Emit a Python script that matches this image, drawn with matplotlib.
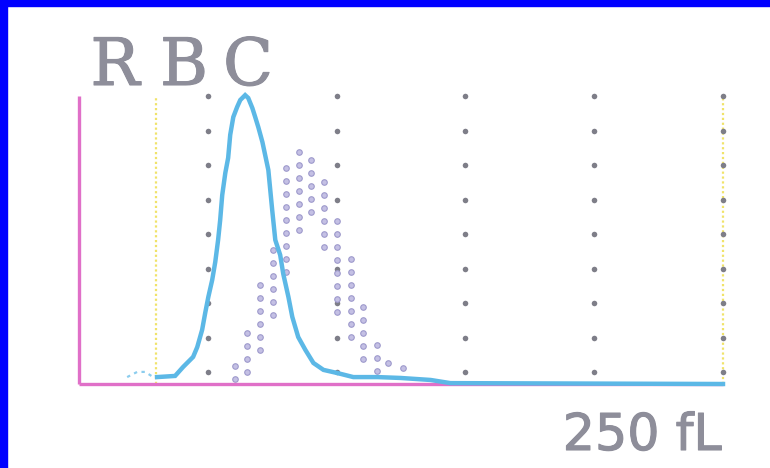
import numpy as np
import matplotlib
matplotlib.use("Agg")
import matplotlib.pyplot as plt
import matplotlib.patheffects as pe
from matplotlib.patches import Rectangle

# RBC volume histogram (x in fL, y in relative counts 0..100)
rbc_x = [30.3, 37.3, 40.4, 44.3, 45.9, 47.8, 49.0, 50.2, 51.7, 52.9, 54.0, 54.8,
         55.6, 56.8, 57.9, 58.7, 59.9, 61.4, 62.6, 64.5, 65.7, 67.3, 68.4, 69.6,
         71.2, 73.5, 75.0, 76.2, 78.1, 79.3, 81.3, 82.8, 85.1, 87.9, 91.0, 94.9,
         100.3, 106.5, 115.9, 124.8, 136.5, 144.2, 250.0]
rbc_y = [2.4, 2.8, 5.9, 9.4, 12.8, 18.8, 24.7, 30.2, 36.1, 42.4, 50.0, 56.9,
         65.6, 73.3, 78.5, 86.5, 92.7, 96.2, 98.6, 100.3, 99.3, 95.8, 92.7, 89.2,
         84.0, 74.3, 60.4, 50.0, 44.8, 38.2, 30.2, 23.3, 16.3, 11.8, 7.3, 4.9,
         3.8, 2.4, 2.4, 2.1, 1.4, 0.3, 0.0]

# part below the lower discriminator (dotted)
lead_x = [18.7, 22.6, 25.7, 28.8, 30.3]
lead_y = [2.4, 4.2, 4.2, 2.4, 2.4]

# reference (normal) curve, drawn as columns of dots
ref_x = [60.6, 65.3, 70.4, 75.4, 80.5, 85.5, 90.2, 95.3, 100.3, 105.4, 110.4,
         115.5, 120.1, 125.6]
ref_top = [6.3, 17.7, 34.4, 46.5, 75.0, 80.6, 77.8, 70.1, 56.6, 43.4, 26.7,
           13.5, 7.3, 5.6]
ref_bot = [0.7, 3.8, 11.8, 23.3, 38.9, 53.8, 59.7, 47.6, 24.7, 16.3, 9.0,
           4.9, 5.0, 5.6]

grid_x = [50, 100, 150, 200, 250]
grid_y = [4, 16, 28, 40, 52, 64, 76, 88, 100]
disc_x = [30, 250]

fig = plt.figure(figsize=(7.7, 4.68), dpi=100)
fig.patch.set_facecolor("white")
fig.patches.append(Rectangle((0, 0), 7 / 770, 1, transform=fig.transFigure,
                             color="#0000FF", zorder=0))
fig.patches.append(Rectangle((0, 1 - 6 / 468), 1, 6 / 468, transform=fig.transFigure,
                             color="#0000FF", zorder=0))

ax = fig.add_axes([79 / 770, (468 - 384) / 468, 644 / 770, 288 / 468])
ax.set_xlim(0, 250)
ax.set_ylim(0, 100)
ax.axis("off")

# dotted grid columns
gx, gy = np.meshgrid(grid_x, grid_y)
ax.scatter(gx.ravel(), gy.ravel(), s=16, color="#7E7E88", marker="o",
           linewidths=0, zorder=2, clip_on=False)

# discriminator lines
for xd in disc_x:
    ax.plot([xd, xd], [0, 100], color="#F0E36A", lw=1.6, ls=(0, (1, 1.2)),
            zorder=1, clip_on=False)

# reference curve dots
step = 4.5
for xc, top, bot in zip(ref_x, ref_top, ref_bot):
    ys = np.arange(top, bot - 0.5, -step)
    ax.scatter(np.full(len(ys), xc), ys, s=16, facecolor="#C4C0E4",
               edgecolor="#9E9ACC", linewidths=0.8, zorder=3, clip_on=False)

# axes lines
ax.plot([0, 0], [0, 100], color="#E070C8", lw=2.4, zorder=4, clip_on=False,
        solid_capstyle="butt")
ax.plot([0, 250], [0, 0], color="#E070C8", lw=2.4, zorder=4, clip_on=False,
        solid_capstyle="butt")

# RBC curve
ax.plot(lead_x, lead_y, color="#8CCDEE", lw=1.6, ls=(0, (1.5, 2)), zorder=5,
        clip_on=False)
ax.plot(rbc_x, rbc_y, color="#5CB8E6", lw=3.2, zorder=5, clip_on=False,
        solid_joinstyle="miter")

# labels
txt_col = "#8E8E9A"
thick = [pe.withStroke(linewidth=0.8, foreground=txt_col)]
for ch, px in zip("RBC", [115, 184, 248]):
    fig.text(px / 770, 1 - 85 / 468, ch, color=txt_col, fontsize=47,
             family="DejaVu Serif", ha="center", va="baseline", path_effects=thick)
fig.text(722 / 770, 1 - 450 / 468, "250 fL", color=txt_col, fontsize=36.5,
         family="DejaVu Sans", ha="right", va="baseline", path_effects=thick)

fig.savefig("out.png", dpi=100, facecolor=fig.get_facecolor())
